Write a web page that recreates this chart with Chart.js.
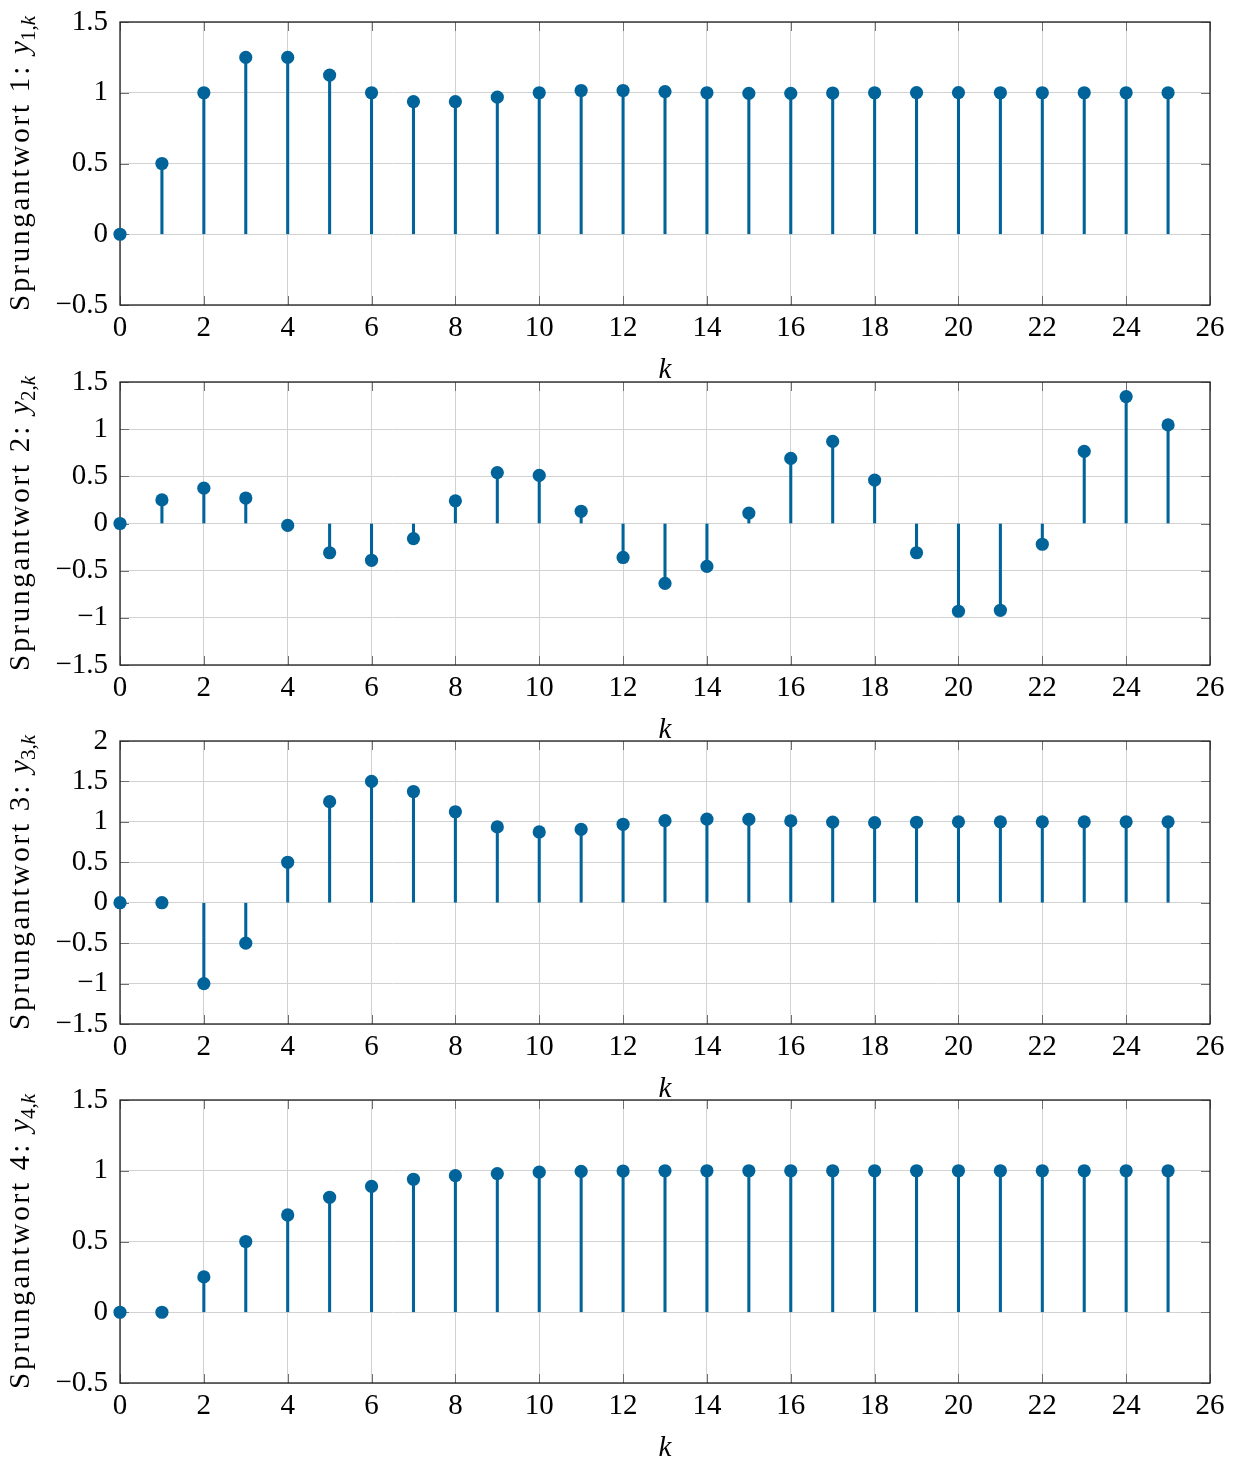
<!DOCTYPE html>
<html>
<head>
<meta charset="utf-8">
<script src="https://cdn.jsdelivr.net/npm/chart.js@4.4.1/dist/chart.umd.min.js"></script>
<style>
  html, body { margin: 0; background: #fff; }
  #wrap { position: relative; width: 1238px; height: 1463px; }
  #wrap canvas { position: absolute; left: 0; }
</style>
</head>
<body>
<div id="wrap"></div>
<script>
// k = 0 ... 25
const kValues = [0, 1, 2, 3, 4, 5, 6, 7, 8, 9, 10, 11, 12, 13, 14, 15, 16, 17, 18, 19, 20, 21, 22, 23, 24, 25];

// Sprungantworten
const y1 = [0, 0.5, 1, 1.25, 1.25, 1.125, 1, 0.9375, 0.9375, 0.969, 1, 1.016, 1.016, 1.008, 1.0, 0.996, 0.996, 0.998, 1, 1.001, 1.001, 1, 1, 1, 1, 1];
const y2 = [0, 0.25, 0.375, 0.27, -0.02, -0.31, -0.39, -0.16, 0.24, 0.54, 0.51, 0.13, -0.36, -0.635, -0.455, 0.11, 0.69, 0.87, 0.46, -0.31, -0.93, -0.92, -0.22, 0.765, 1.345, 1.045];
const y3 = [0, 0, -1, -0.5, 0.5, 1.25, 1.5, 1.375, 1.125, 0.9375, 0.875, 0.906, 0.97, 1.015, 1.033, 1.03, 1.012, 0.996, 0.99, 0.995, 1, 1, 1, 1, 1, 1];
const y4 = [0, 0, 0.25, 0.5, 0.6875, 0.8125, 0.89, 0.94, 0.965, 0.98, 0.99, 0.995, 0.998, 1, 1, 1, 1, 1, 1, 1, 1, 1, 1, 1, 1, 1];

const yMins = [-0.5, -1.5, -1.5, -0.5];
const yMaxs = [1.5, 1.5, 2, 1.5];
const series = [y1, y2, y3, y4];

const blue = '#00649b';
const serif = "'Liberation Serif', 'DejaVu Serif', serif";
const canvasTops = [0, 360, 719, 1078];

function minus(v) {
  return v < 0 ? '\u2212' + (-v) : String(v);
}

// Rahmen, innere Ticks und Achsenbeschriftungen
const framePlugin = {
  id: 'frame',
  beforeDatasetsDraw(chart) {
    const { ctx, chartArea: a, scales: { x, y } } = chart;
    ctx.save();
    ctx.strokeStyle = '#707070';
    ctx.lineWidth = 1;
    ctx.beginPath();
    x.ticks.forEach(t => {
      const px = Math.round(x.getPixelForValue(t.value)) + 0.5;
      ctx.moveTo(px, a.top); ctx.lineTo(px, a.top + 9);
      ctx.moveTo(px, a.bottom); ctx.lineTo(px, a.bottom - 9);
    });
    y.ticks.forEach(t => {
      const py = Math.round(y.getPixelForValue(t.value)) + 0.5;
      ctx.moveTo(a.left, py); ctx.lineTo(a.left + 9, py);
      ctx.moveTo(a.right, py); ctx.lineTo(a.right - 9, py);
    });
    ctx.stroke();
    ctx.strokeStyle = '#1e1e1e';
    ctx.lineWidth = 1.3;
    ctx.strokeRect(a.left, a.top, a.right - a.left, a.bottom - a.top);
    ctx.restore();
  },
  afterDraw(chart, args, opts) {
    const { ctx, chartArea: a } = chart;
    ctx.save();
    ctx.fillStyle = '#000';
    // x-Titel
    ctx.font = 'italic 29px ' + serif;
    ctx.textAlign = 'center';
    ctx.textBaseline = 'alphabetic';
    ctx.fillText('k', (a.left + a.right) / 2, a.bottom + 73);

    // y-Titel, gedreht
    const parts = [
      { t: 'Sprungantwort ' + opts.n + ': ', f: '29px ' + serif, dy: 0, ls: 2.8 },
      { t: 'y', f: 'italic 29px ' + serif, dy: 0, ls: 0 },
      { t: opts.n + ',', f: '21px ' + serif, dy: 6, ls: 0 },
      { t: 'k', f: 'italic 21px ' + serif, dy: 6, ls: 0 }
    ];
    let total = 0;
    parts.forEach(p => {
      ctx.font = p.f;
      ctx.letterSpacing = p.ls + 'px';
      p.w = ctx.measureText(p.t).width;
      total += p.w;
    });
    ctx.translate(29, (a.top + a.bottom) / 2);
    ctx.rotate(-Math.PI / 2);
    ctx.textAlign = 'left';
    let cx = -total / 2;
    parts.forEach(p => {
      ctx.font = p.f;
      ctx.letterSpacing = p.ls + 'px';
      ctx.fillText(p.t, cx, p.dy);
      cx += p.w;
    });
    ctx.restore();
  }
};

const wrap = document.getElementById('wrap');

series.forEach((vals, i) => {
  const cv = document.createElement('canvas');
  cv.width = 1238;
  cv.height = 385;
  cv.style.top = canvasTops[i] + 'px';
  wrap.appendChild(cv);

  const pts = kValues.map((k, j) => ({ x: k, y: vals[j] }));

  new Chart(cv.getContext('2d'), {
    type: 'bar',
    data: {
      datasets: [
        {
          type: 'bar',
          data: pts,
          backgroundColor: blue,
          borderWidth: 0,
          barThickness: 2.4,
          order: 2
        },
        {
          type: 'scatter',
          data: pts,
          backgroundColor: blue,
          borderColor: blue,
          pointRadius: 6.6,
          pointBorderWidth: 0,
          clip: false,
          order: 1
        }
      ]
    },
    options: {
      responsive: false,
      animation: false,
      devicePixelRatio: 1,
      layout: { padding: { top: 22, right: 28, left: 0, bottom: 0 } },
      plugins: {
        legend: { display: false },
        tooltip: { enabled: false },
        frame: { n: i + 1 }
      },
      scales: {
        x: {
          type: 'linear',
          min: 0,
          max: 26,
          offset: false,
          grid: { offset: false, color: '#d2d2d2', lineWidth: 1, drawTicks: false },
          border: { display: false },
          ticks: {
            stepSize: 2,
            padding: 6,
            color: '#000',
            maxRotation: 0,
            font: { family: serif, size: 29 }
          },
          afterFit(s) {
            s.height = 80;
            s.paddingLeft = 0;
            s.paddingRight = 0;
          }
        },
        y: {
          min: yMins[i],
          max: yMaxs[i],
          grid: { color: '#d2d2d2', lineWidth: 1, drawTicks: false },
          border: { display: false },
          ticks: {
            stepSize: 0.5,
            padding: 12,
            color: '#000',
            font: { family: serif, size: 29 },
            callback: v => minus(v)
          },
          afterFit(s) {
            s.width = 120;
            s.paddingTop = 0;
            s.paddingBottom = 0;
          }
        }
      }
    },
    plugins: [framePlugin]
  });
});
</script>
</body>
</html>
